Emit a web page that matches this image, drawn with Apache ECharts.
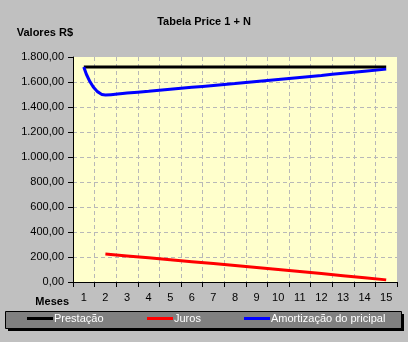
<!DOCTYPE html>
<html>
<head>
<meta charset="utf-8">
<script src="https://cdn.jsdelivr.net/npm/echarts@6/dist/echarts.min.js"></script>
<style>
  html, body { margin: 0; padding: 0; background: #c0c0c0; }
  #chart { width: 408px; height: 342px; }
</style>
</head>
<body>
<div id="chart"></div>
<script>
// Tabela Price 1 + N: prestação, juros e amortização por mês
const meses = ['1', '2', '3', '4', '5', '6', '7', '8', '9', '10', '11', '12', '13', '14', '15'];
const prestacao = [1720, 1720, 1720, 1720, 1720, 1720, 1720, 1720, 1720, 1720, 1720, 1720, 1720, 1720, 1720];
const juros = [null, 223.66, 208.70, 193.59, 178.32, 162.91, 147.33, 131.61, 115.73, 99.68, 83.48, 67.11, 50.59, 33.89, 17.03];
const amortizacao = [1720, 1496.34, 1511.30, 1526.41, 1541.68, 1557.09, 1572.67, 1588.39, 1604.27, 1620.32, 1636.52, 1652.89, 1669.41, 1686.11, 1702.97];
const serieNomes = ['Prestação', 'Juros', 'Amortização do pricipal'];

const FONT = '"Liberation Sans", Arial, sans-serif';

// 1800 -> "1.800,00"
function formatBR(v) {
  const parts = v.toFixed(2).split('.');
  parts[0] = parts[0].replace(/\B(?=(\d{3})+(?!\d))/g, '.');
  return parts[0] + ',' + parts[1];
}

const chart = echarts.init(document.getElementById('chart'), null, { renderer: 'canvas' });

function legendFor(name, left, color) {
  return {
    data: [name],
    left: left,
    top: 313,
    orient: 'horizontal',
    icon: 'rect',
    itemWidth: 26,
    itemHeight: 3,
    padding: 0,
    inactiveColor: color,
    selectedMode: false,
    textStyle: { color: '#ffffff', fontFamily: FONT, fontSize: 11, padding: [0, 0, 0, -4] }
  };
}

chart.setOption({
  backgroundColor: '#c0c0c0',
  animation: false,
  textStyle: { fontFamily: FONT },
  title: {
    text: 'Tabela Price 1 + N',
    left: 'center',
    top: 16,
    padding: 0,
    textStyle: { fontFamily: FONT, fontSize: 11, fontWeight: 'bold', color: '#000' }
  },
  graphic: [
    // legend frame with drop shadow
    { type: 'rect', z: -1, shape: { x: 8, y: 314, width: 396, height: 17 }, style: { fill: '#000' } },
    { type: 'rect', z: -1, shape: { x: 5.5, y: 311.5, width: 396, height: 17 }, style: { fill: '#808080', stroke: '#000', lineWidth: 1 } }
  ],
  legend: [
    legendFor(serieNomes[0], 27, '#000000'),
    legendFor(serieNomes[1], 147, '#ff0000'),
    legendFor(serieNomes[2], 244, '#0000ff')
  ],
  grid: {
    left: 73, top: 57, right: 11, bottom: 60,
    show: true, backgroundColor: '#ffffcc', borderWidth: 0
  },
  xAxis: {
    type: 'category',
    data: meses,
    boundaryGap: true,
    name: 'Meses',
    nameLocation: 'start',
    nameGap: 4,
    nameTextStyle: { fontFamily: FONT, fontSize: 11, fontWeight: 'bold', color: '#000', align: 'right', verticalAlign: 'top', padding: [14, 0, 0, 0] },
    axisLine: { show: true, lineStyle: { color: '#000', width: 1 } },
    axisTick: { show: true, length: 5, alignWithLabel: false, lineStyle: { color: '#000' } },
    axisLabel: { color: '#000', fontFamily: FONT, fontSize: 11, margin: 10, interval: 0 },
    splitLine: { show: true, interval: 0, showMaxLine: false, lineStyle: { color: '#b8b8b8', type: [4, 3], width: 1 } }
  },
  yAxis: {
    type: 'value',
    min: 0,
    max: 1800,
    interval: 200,
    name: 'Valores R$',
    nameLocation: 'end',
    nameGap: 24,
    nameTextStyle: { fontFamily: FONT, fontSize: 11, fontWeight: 'bold', color: '#000', align: 'right', verticalAlign: 'middle' },
    axisLine: { show: true, lineStyle: { color: '#000', width: 1 } },
    axisTick: { show: true, length: 5, lineStyle: { color: '#000' } },
    axisLabel: { color: '#000', fontFamily: FONT, fontSize: 11, margin: 9, formatter: formatBR },
    splitLine: { show: true, showMaxLine: false, lineStyle: { color: '#b8b8b8', type: [4, 3], width: 1 } }
  },
  series: [
    {
      name: serieNomes[0], type: 'line', data: prestacao,
      showSymbol: false, symbol: 'none',
      itemStyle: { color: '#000000' },
      lineStyle: { color: '#000000', width: 3 }
    },
    {
      name: serieNomes[1], type: 'line', data: juros,
      showSymbol: false, symbol: 'none',
      itemStyle: { color: '#ff0000' },
      lineStyle: { color: '#ff0000', width: 3 }
    },
    {
      name: serieNomes[2], type: 'line', data: amortizacao,
      showSymbol: false, symbol: 'none', smooth: 0.5,
      itemStyle: { color: '#0000ff' },
      lineStyle: { color: '#0000ff', width: 3 }
    }
  ]
});
</script>
</body>
</html>
